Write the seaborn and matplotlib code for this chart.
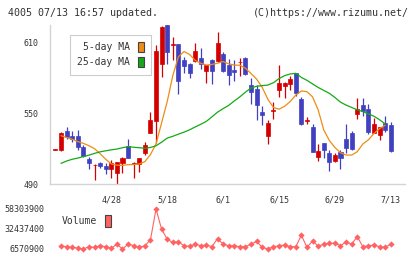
import numpy as np
import pandas as pd
import matplotlib
matplotlib.use("Agg")
import matplotlib.pyplot as plt
from matplotlib.patches import Patch
import seaborn as sns

# 取引日 (2020/04/14 - 2020/07/13)
holidays = ["2020-04-29", "2020-05-04", "2020-05-05", "2020-05-06"]
dates = pd.bdate_range("2020-04-14", "2020-07-13", freq="C", holidays=holidays)
label_dates = ["4/28", "5/18", "6/1", "6/15", "6/29", "7/13"]

# 四本値
opens = [519, 519, 535, 530.5, 530.5, 521.5, 511, 506, 507.5, 505.5,
         502.4, 499.6, 508, 522, 507.3, 506.7, 516.6, 533, 543.7, 591.6,
         625, 608, 608.5, 595.5, 592, 594.4, 597, 585.6, 595.5, 594.7,
         600, 591.3, 586.5, 593.2, 597, 573.7, 571, 551, 530.4, 552.2,
         569.5, 573, 575, 584.2, 562, 543.7, 538.4, 513, 524.8, 516.3,
         509.5, 517, 528.4, 533.3, 549.7, 556.8, 553.4, 533.3, 531.3, 541.7,
         540.3]
highs = [520, 534, 538.5, 535, 536, 523, 513, 507, 509, 508,
         510, 509, 513, 528, 509, 512.5, 526, 551, 608, 624,
         625, 615, 609, 598, 593, 609.7, 605.4, 591, 596, 619,
         602, 596.4, 595, 597, 598, 580, 573.7, 556, 544, 559.6,
         591.3, 576.5, 581.7, 584.2, 564, 546.8, 541.2, 523.6, 524.8, 519,
         516.3, 518.5, 541.2, 535.2, 563, 563, 558.2, 546.3, 538.1, 547.4,
         542.6]
lows = [519, 518, 528.5, 526, 519, 513, 502.7, 493.4, 503.3, 498.5,
        495, 489, 499.6, 512, 494.8, 500.4, 515, 533, 524.5, 581,
        591.5, 595.5, 566, 584.5, 580, 594, 588, 575.7, 575, 594,
        585, 573.7, 577.4, 581.4, 582.2, 558.2, 544.6, 540.3, 524.2, 545.4,
        563.8, 563.3, 569.5, 564.7, 540.3, 541.2, 516.8, 509.2, 512.3, 501,
        508.6, 503, 516.3, 519, 545.4, 547.4, 532.7, 533, 527.6, 534,
        517]
closes = [519.5, 533, 530, 528, 521, 513.7, 508, 506.3, 505.5, 503,
          508, 508.6, 512.3, 512.3, 507.9, 512.3, 522.8, 544.3, 603, 623.5,
          602.5, 609, 577.4, 590.4, 584.5, 603, 592, 590.7, 586.2, 609.7,
          586.2, 582.8, 585, 593.7, 583, 568, 556.8, 548.3, 541.7, 552.7,
          575.7, 576, 578.8, 567.2, 541, 544.2, 517.1, 517.7, 518.8, 508.6,
          514.3, 512, 520.5, 520, 553.4, 551.7, 534, 540.6, 538, 536,
          518]

# 移動平均 (チャートから読み取り)
ma5 = [np.nan, 531, 529.5, 528, 526, 524.5, 522.5, 520, 515.7, 511,
       507, 506, 505.8, 506.4, 506.5, 507, 509, 515, 524, 542,
       560, 582, 598, 602.5, 600, 595, 592.5, 591, 591.5, 592.5,
       594, 592, 591, 590.8, 588.3, 583.8, 579, 572, 562, 555,
       553.5, 556, 560, 565.5, 569, 568.4, 564, 553, 536, 527,
       521, 516.5, 514.6, 514.6, 517.4, 524, 527.5, 533, 537, 540,
       np.nan]
ma25 = [np.nan, 507.5, 509.5, 511, 512, 513.3, 514.5, 516, 517.3, 518.2,
        519, 519.7, 520.8, 521.7, 521.2, 520.8, 520.3, 521, 522.5, 525.5,
        529, 530.5, 532.3, 534, 536, 538.4, 540.7, 543.2, 547, 551,
        554, 556.8, 560.5, 564, 568, 571.5, 573, 573.5, 574, 576,
        579.5, 582, 583.4, 584, 580.5, 578, 575, 572, 569.5, 567,
        563.5, 559.5, 557, 555, 553, 551.5, 549.5, 547.5, 544.5, 541,
        np.nan]

# 出来高 (4/15以降)
volume = [10810000, 9540000, 8690000, 7840000, 6570900, 9540000, 8690000, 10810000, 9540000, 7420000,
          12930000, 6570900, 12930000, 10810000, 8690000, 10810000, 18440000, 58303900, 32010000, 19290000,
          15050000, 15900000, 10810000, 9960000, 12930000, 10810000, 11660000, 9540000, 20140000, 12930000,
          10810000, 10810000, 9540000, 9540000, 12930000, 16320000, 8690000, 6570900, 9540000, 10810000,
          11660000, 9540000, 9540000, 24380000, 8690000, 17170000, 9960000, 12930000, 13780000, 14200000,
          10810000, 15900000, 12930000, 22680000, 9540000, 10810000, 11660000, 9540000, 8690000, 12930000]

UP = "#d40000"
DOWN = "#4040c0"
C5 = "#f08c14"
C25 = "#14aa14"
VOLC = "#ff6262"
GRID = "#d4d4d4"
TXT = "#333333"
MONO = ["DejaVu Sans Mono"]

sns.set_style("white")
plt.rcParams["font.family"] = MONO

x = np.arange(len(dates))
df = pd.DataFrame({"x": x, "open": opens, "high": highs, "low": lows,
                   "close": closes, "ma5": ma5, "ma25": ma25})
df["color"] = np.where(df["close"] >= df["open"], UP, DOWN)
df["label"] = [f"{d.month}/{d.day}" for d in dates]
vol_df = pd.DataFrame({"x": x[1:], "volume": volume})

fig = plt.figure(figsize=(4.2, 2.59), dpi=100)
xlim = (-0.97, 62.54)

# 株価
ax = fig.add_axes([50 / 420, 1 - 184 / 259, 355 / 420, 159 / 259])
ax.vlines(df["x"], df["low"], df["high"], colors=df["color"], linewidth=0.9, zorder=2)
ax.bar(df["x"], df["close"] - df["open"], bottom=df["open"], width=0.72,
       color=df["color"], edgecolor=df["color"], linewidth=0.5, zorder=3)
sns.lineplot(data=df, x="x", y="ma5", ax=ax, color=C5, linewidth=0.9, zorder=4)
sns.lineplot(data=df, x="x", y="ma25", ax=ax, color=C25, linewidth=0.9, zorder=4)

ax.set_xlim(*xlim)
ax.set_ylim(490, 625)
ax.set_xlabel("")
ax.set_ylabel("")
for s in ["top", "right"]:
    ax.spines[s].set_visible(False)
for s in ["left", "bottom"]:
    ax.spines[s].set_color(GRID)
    ax.spines[s].set_linewidth(1)
ax.set_yticks([490, 550, 610])
ax.tick_params(axis="y", length=5, width=0.8, color=GRID, labelsize=6,
               labelcolor=TXT, pad=3)
pos = [df.index[df["label"] == lb][0] for lb in label_dates]
ax.set_xticks(pos)
ax.set_xticklabels(label_dates)
ax.set_xticks(np.linspace(xlim[0], xlim[1], 12), minor=True)
ax.tick_params(axis="x", which="major", length=0, labelsize=6, labelcolor=TXT, pad=8)
ax.tick_params(axis="x", which="minor", length=7, width=0.8, color=GRID, direction="inout")

handles = [Patch(facecolor=C5, edgecolor="#444444", linewidth=0.8),
           Patch(facecolor=C25, edgecolor="#444444", linewidth=0.8)]
leg = ax.legend(handles, ["5-day MA", "25-day MA"], loc="upper left",
                bbox_to_anchor=(0.042, 0.969), markerfirst=False, fontsize=7,
                handlelength=0.62, handleheight=1.25, handletextpad=0.8,
                labelspacing=0.45, borderpad=0.75, fancybox=False,
                framealpha=1, edgecolor="#cccccc")
leg.get_frame().set_linewidth(0.8)
for t in leg.get_texts():
    t.set_color(TXT)

# 出来高
ax2 = fig.add_axes([50 / 420, 1 - 249 / 259, 355 / 420, 40 / 259])
sns.lineplot(data=vol_df, x="x", y="volume", ax=ax2, color=VOLC, linewidth=0.8,
             marker="D", markersize=3.2, markeredgewidth=0, clip_on=False)
vmin, vmax = min(volume), max(volume)
ax2.set_xlim(*xlim)
ax2.set_ylim(vmin, vmax)
ax2.set_yticks([vmin, (vmin + vmax) // 2, vmax])
ax2.set_yticklabels([str(v) for v in [vmin, (vmin + vmax) // 2, vmax]])
ax2.set_xticks([])
ax2.set_xlabel("")
ax2.set_ylabel("")
for s in ax2.spines.values():
    s.set_visible(False)
ax2.tick_params(axis="y", length=0, labelsize=6, labelcolor=TXT, pad=4.3)
ax2.patch.set_alpha(0)

vleg = fig.legend([Patch(facecolor=VOLC, edgecolor="#444444", linewidth=0.8)], ["Volume"],
                  loc="center left", bbox_to_anchor=(57 / 420, 1 - 221 / 259),
                  markerfirst=False, fontsize=7, frameon=False, borderpad=0,
                  handlelength=0.6, handleheight=1.5, handletextpad=0.8)
for t in vleg.get_texts():
    t.set_color(TXT)

fig.text(8 / 420, 1 - 13 / 259, "4005 07/13 16:57 updated.", fontsize=7.2,
         color=TXT, va="center", ha="left")
fig.text(409 / 420, 1 - 13 / 259, "(C)https://www.rizumu.net/", fontsize=7.2,
         color=TXT, va="center", ha="right")

fig.savefig("out.png", dpi=100)
